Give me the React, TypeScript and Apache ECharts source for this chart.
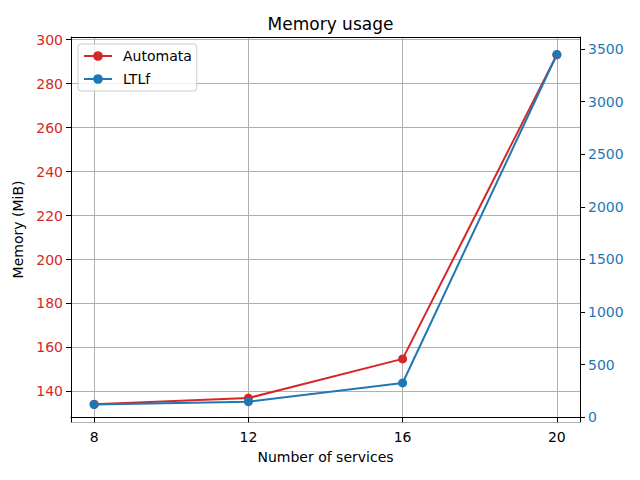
import React, { useEffect, useRef } from "react";
import * as echarts from "echarts";

const services = [8, 12, 16, 20];
const automata = [134.2, 137.0, 154.8, 293.1];
const ltlf = [122, 149, 327, 3448];

const FONT = "DejaVu Sans";
const RED = "#d62728";
const BLUE = "#1f77b4";

export default function App() {
  const ref = useRef<HTMLDivElement>(null);
  useEffect(() => {
    if (!ref.current) return;
    const chart = echarts.init(ref.current, undefined, { renderer: "svg" });
    const axisLine = { show: true, lineStyle: { color: "#000", width: 1 } };
    chart.setOption({
      animation: false,
      backgroundColor: "#fff",
      textStyle: { fontFamily: FONT },
      title: {
        text: "Memory usage",
        left: 325.5,
        top: 10,
        textAlign: "center",
        textStyle: { fontFamily: FONT, fontSize: 17, fontWeight: "normal", color: "#000" },
      },
      legend: {
        orient: "vertical",
        left: 78,
        top: 44,
        padding: [5, 5, 5, 5],
        itemGap: 9,
        itemWidth: 28,
        itemHeight: 12,
        borderColor: "#cccccc",
        borderWidth: 1,
        borderRadius: 3,
        backgroundColor: "rgba(255,255,255,0.8)",
        textStyle: { fontFamily: FONT, fontSize: 14, color: "#000", padding: [0, 0, 0, 6] },
        data: ["Automata", "LTLf"],
      },
      grid: { left: 71, right: 60, top: 37, bottom: 58, containLabel: false },
      xAxis: [
        {
          type: "value",
          min: 7.4,
          max: 20.6,
          minInterval: 4,
          maxInterval: 4,
          name: "Number of services",
          nameLocation: "middle",
          nameGap: 28,
          nameTextStyle: { fontFamily: FONT, fontSize: 14, color: "#000" },
          axisLine,
          axisTick: { show: true, length: 5, lineStyle: { color: "#000" } },
          axisLabel: { fontFamily: FONT, fontSize: 14, color: "#000", margin: 8, showMinLabel: false, showMaxLabel: false },
          splitLine: { show: true, lineStyle: { color: "#b0b0b0", width: 1 } },
        },
        {
          type: "value",
          position: "top",
          min: 7.4,
          max: 20.6,
          axisLine,
          axisTick: { show: false },
          axisLabel: { show: false },
          splitLine: { show: false },
        },
      ],
      yAxis: [
        {
          type: "value",
          position: "left",
          min: 126.1,
          max: 301.2,
          minInterval: 20,
          maxInterval: 20,
          name: "Memory (MiB)",
          nameLocation: "middle",
          nameGap: 42,
          nameTextStyle: { fontFamily: FONT, fontSize: 14, color: "#000" },
          axisLine,
          axisTick: { show: true, length: 5, lineStyle: { color: "#000" } },
          axisLabel: { fontFamily: FONT, fontSize: 14, color: RED, margin: 8, showMinLabel: false, showMaxLabel: false },
          splitLine: { show: true, lineStyle: { color: "#b0b0b0", width: 1 } },
        },
        {
          type: "value",
          position: "right",
          min: -44,
          max: 3614,
          minInterval: 500,
          maxInterval: 500,
          alignTicks: false,
          axisLine,
          axisTick: { show: true, length: 5, lineStyle: { color: "#000" } },
          axisLabel: {
            fontFamily: FONT,
            fontSize: 14,
            color: BLUE,
            margin: 8,
            showMinLabel: false,
            showMaxLabel: false,
            formatter: (v: number) => String(v),
          },
          splitLine: { show: false },
        },
      ],
      series: [
        {
          name: "Automata",
          type: "line",
          xAxisIndex: 0,
          yAxisIndex: 0,
          data: services.map((s, i) => [s, automata[i]]),
          symbol: "circle",
          symbolSize: 9,
          lineStyle: { color: RED, width: 2 },
          itemStyle: { color: RED },
        },
        {
          name: "LTLf",
          type: "line",
          xAxisIndex: 0,
          yAxisIndex: 1,
          data: services.map((s, i) => [s, ltlf[i]]),
          symbol: "circle",
          symbolSize: 9,
          lineStyle: { color: BLUE, width: 2 },
          itemStyle: { color: BLUE },
        },
      ],
    });
    return () => chart.dispose();
  }, []);
  return <div ref={ref} style={{ position: "fixed", left: 0, top: 0, width: 640, height: 480 }} />;
}
